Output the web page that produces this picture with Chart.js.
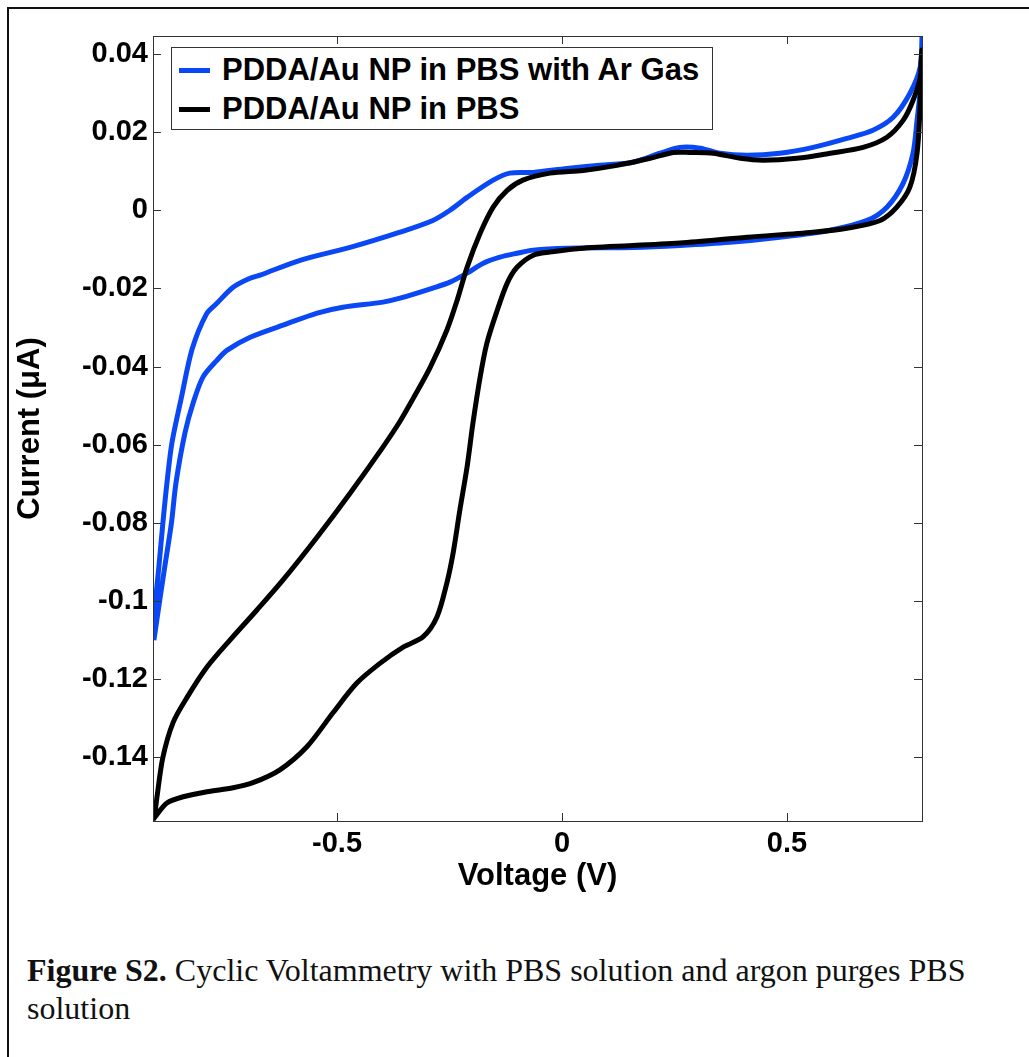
<!DOCTYPE html>
<html>
<head>
<meta charset="utf-8">
<script src="https://cdn.jsdelivr.net/npm/chart.js@4.4.1/dist/chart.umd.min.js"></script>
<style>
  html, body { margin: 0; padding: 0; background: #fff; overflow: hidden; }
  #wrap { position: relative; width: 1029px; height: 1057px; }
  #frame { position: absolute; left: 7px; top: 7px; width: 1040px; height: 1100px; border: 2px solid #111; box-sizing: border-box; }
  #cv { position: absolute; left: 0; top: 0; }
  #legend {
    position: absolute; left: 171px; top: 47px; width: 542px; height: 83px;
    border: 1px solid #333; background: #fff; box-sizing: border-box;
    font: bold 31px 'Liberation Sans', Arial, sans-serif; color: #000;
  }
  .leg-row { position: absolute; left: 0; height: 36px; line-height: 36px; white-space: nowrap; }
  .leg-line { position: absolute; left: 7px; top: 16px; width: 31px; height: 5px; }
  .leg-text { position: absolute; left: 50px; top: 0; }
  #caption {
    position: absolute; left: 27px; top: 951px; width: 985px;
    font: 32px 'Liberation Serif', 'DejaVu Serif', serif; line-height: 38px; color: #111;
  }
</style>
</head>
<body>
<div id="wrap">
  <div id="frame"></div>
  <canvas id="cv" width="1029" height="900"></canvas>
  <div id="legend"></div>
  <div id="caption"><b>Figure S2.</b> Cyclic Voltammetry with PBS solution and argon purges PBS<br>solution</div>
</div>
<script>
'use strict';

// ── Data (voltage V, current µA) ────────────────────────────────
const argonV = [
  -0.907, -0.903, -0.896, -0.887, -0.878, -0.867, -0.846, -0.822, -0.790, -0.767,
  -0.731, -0.693, -0.671, -0.582, -0.471, -0.360, -0.287, -0.249, -0.211, -0.153,
  -0.116, -0.064, 0.011, 0.084, 0.158, 0.218, 0.262, 0.307, 0.351, 0.411,
  0.484, 0.558, 0.633, 0.691, 0.736, 0.773, 0.796, 0.800,
  0.798, 0.789, 0.780, 0.758, 0.722, 0.678, 0.596, 0.484, 0.373, 0.262,
  0.158, 0.011, -0.064, -0.100, -0.138, -0.176, -0.211, -0.249, -0.287, -0.360,
  -0.398, -0.487, -0.544, -0.620, -0.693, -0.744, -0.767, -0.798, -0.820, -0.838,
  -0.858, -0.868, -0.883, -0.894, -0.907
];
const argonI = [
  -0.110, -0.0998, -0.0913, -0.0800, -0.0698, -0.0596, -0.0480, -0.0355, -0.0265, -0.0238,
  -0.0197, -0.0174, -0.0166, -0.0128, -0.0095, -0.0056, -0.0026, 0.0000, 0.0033, 0.0077,
  0.0095, 0.0097, 0.0107, 0.0115, 0.0123, 0.0146, 0.0161, 0.0159, 0.0146, 0.0141,
  0.0146, 0.0161, 0.0184, 0.0205, 0.0238, 0.0299, 0.0366, 0.0445,
  0.0332, 0.0230, 0.0146, 0.0069, 0.0008, -0.0026, -0.0051, -0.0069, -0.0082, -0.0090,
  -0.0095, -0.0097, -0.0102, -0.0110, -0.0120, -0.0136, -0.0161, -0.0184, -0.0199, -0.0225,
  -0.0235, -0.0248, -0.0263, -0.0294, -0.0325, -0.0358, -0.0384, -0.0427, -0.0494, -0.0570,
  -0.0698, -0.0800, -0.0913, -0.0998, -0.110
];

const pbsV = [
  -0.909, -0.904, -0.900, -0.887, -0.864, -0.833, -0.789, -0.738, -0.678, -0.620,
  -0.544, -0.471, -0.398, -0.360, -0.331, -0.293, -0.256, -0.233, -0.211, -0.182,
  -0.153, -0.122, -0.087, -0.027, 0.047, 0.122, 0.196, 0.247, 0.284, 0.336,
  0.396, 0.447, 0.522, 0.596, 0.669, 0.722, 0.758, 0.780, 0.796, 0.800,
  0.798, 0.796, 0.789, 0.773, 0.744, 0.707, 0.633, 0.558, 0.411, 0.262,
  0.047, -0.027, -0.064, -0.100, -0.122, -0.144, -0.167, -0.182, -0.198, -0.211,
  -0.227, -0.242, -0.256, -0.278, -0.309, -0.353, -0.404, -0.456, -0.509, -0.567,
  -0.627, -0.687, -0.731, -0.789, -0.842, -0.878, -0.904, -0.909
];
const pbsI = [
  -0.1560, -0.1535, -0.1500, -0.1400, -0.1310, -0.1246, -0.1169, -0.1100, -0.1023, -0.0946,
  -0.0836, -0.0724, -0.0606, -0.0540, -0.0482, -0.0402, -0.0307, -0.0230, -0.0146, -0.0059,
  0.0008, 0.0051, 0.0077, 0.0095, 0.0102, 0.0115, 0.0133, 0.0148, 0.0148, 0.0146,
  0.0133, 0.0128, 0.0133, 0.0146, 0.0161, 0.0187, 0.0230, 0.0281, 0.0340, 0.0410,
  0.0380, 0.0274, 0.0146, 0.0059, 0.0008, -0.0026, -0.0046, -0.0056, -0.0069, -0.0084,
  -0.0097, -0.0107, -0.0115, -0.0146, -0.0187, -0.0256, -0.0340, -0.0427, -0.0545, -0.0657,
  -0.0767, -0.0877, -0.0954, -0.1041, -0.1092, -0.1118, -0.1159, -0.1210, -0.1286, -0.1373,
  -0.1432, -0.1465, -0.1478, -0.1488, -0.1501, -0.1517, -0.1552, -0.1560
];

const seriesNames = ['PDDA/Au NP in PBS with Ar Gas', 'PDDA/Au NP in PBS'];
const seriesColors = ['#0a47f5', '#000000'];

const xTickValues = [-0.5, 0, 0.5];
const xTickLabels = ['-0.5', '0', '0.5'];
const yTickValues = [0.04, 0.02, 0, -0.02, -0.04, -0.06, -0.08, -0.1, -0.12, -0.14];
const yTickLabels = ['0.04', '0.02', '0', '-0.02', '-0.04', '-0.06', '-0.08', '-0.1', '-0.12', '-0.14'];

const xRange = [-0.909, 0.8];
const yRange = [-0.1563, 0.0446];

// ── Helpers ─────────────────────────────────────────────────────
function toPoints(xs, ys) {
  return xs.map((x, i) => ({ x: x, y: ys[i] }));
}

function labelFor(values, labels, v) {
  const i = values.findIndex(t => Math.abs(t - v) < 1e-9);
  return i >= 0 ? labels[i] : '';
}

const TICK_FONT = { family: "'Liberation Sans', Arial, sans-serif", size: 29, weight: 'bold' };
const AXIS_COLOR = '#333';

// Box around the plot with inward ticks on all four sides (MATLAB style)
const boxTicks = {
  id: 'boxTicks',
  afterDraw(chart) {
    const { ctx, chartArea: a, scales } = chart;
    const len = 8;
    ctx.save();
    ctx.strokeStyle = AXIS_COLOR;
    ctx.lineWidth = 1;
    ctx.strokeRect(a.left + 0.5, a.top + 0.5, a.right - a.left, a.bottom - a.top);
    ctx.beginPath();
    xTickValues.forEach(v => {
      const px = Math.round(scales.x.getPixelForValue(v)) + 0.5;
      ctx.moveTo(px, a.bottom); ctx.lineTo(px, a.bottom - len);
      ctx.moveTo(px, a.top); ctx.lineTo(px, a.top + len);
    });
    yTickValues.forEach(v => {
      const py = Math.round(scales.y.getPixelForValue(v)) + 0.5;
      ctx.moveTo(a.left, py); ctx.lineTo(a.left + len, py);
      ctx.moveTo(a.right, py); ctx.lineTo(a.right - len, py);
    });
    ctx.stroke();
    ctx.restore();
  }
};

// ── Chart ───────────────────────────────────────────────────────
const chart = new Chart(document.getElementById('cv').getContext('2d'), {
  type: 'line',
  data: {
    datasets: [
      {
        label: seriesNames[0],
        data: toPoints(argonV, argonI),
        borderColor: seriesColors[0],
        borderWidth: 5,
        pointRadius: 0,
        tension: 0.3,
        order: 1
      },
      {
        label: seriesNames[1],
        data: toPoints(pbsV, pbsI),
        borderColor: seriesColors[1],
        borderWidth: 5,
        pointRadius: 0,
        tension: 0.3,
        order: 0
      }
    ]
  },
  options: {
    responsive: false,
    animation: false,
    devicePixelRatio: 1,
    layout: { padding: { left: 0, top: 36, right: 107, bottom: 0 } },
    plugins: {
      legend: { display: false },
      tooltip: { enabled: false }
    },
    scales: {
      x: {
        type: 'linear',
        min: xRange[0],
        max: xRange[1],
        grid: { display: false, drawTicks: false },
        border: { display: false },
        afterBuildTicks: s => { s.ticks = xTickValues.map(v => ({ value: v })); },
        afterFit: s => { s.height = 79; },
        ticks: {
          color: '#000',
          font: TICK_FONT,
          padding: 6,
          maxRotation: 0,
          autoSkip: false,
          callback: v => labelFor(xTickValues, xTickLabels, v)
        },
        title: {
          display: true,
          text: 'Voltage (V)',
          color: '#000',
          font: { family: "'Liberation Sans', Arial, sans-serif", size: 31, weight: 'bold' },
          padding: { top: 0, bottom: 5 }
        }
      },
      y: {
        type: 'linear',
        min: yRange[0],
        max: yRange[1],
        grid: { display: false, drawTicks: false },
        border: { display: false },
        afterBuildTicks: s => { s.ticks = yTickValues.map(v => ({ value: v })); },
        afterFit: s => { s.width = 153; },
        ticks: {
          color: '#000',
          font: TICK_FONT,
          padding: 5,
          autoSkip: false,
          callback: v => labelFor(yTickValues, yTickLabels, v)
        },
        title: {
          display: true,
          text: 'Current (\u03BCA)',
          color: '#000',
          font: { family: "'Liberation Sans', Arial, sans-serif", size: 31, weight: 'bold' },
          padding: { top: 12, bottom: 0 }
        }
      }
    }
  },
  plugins: [boxTicks]
});

// ── Legend (boxed, top-left inside the axes) ────────────────────
const legendEl = document.getElementById('legend');
chart.data.datasets.forEach((ds, i) => {
  const row = document.createElement('div');
  row.className = 'leg-row';
  row.style.top = (4 + i * 39) + 'px';
  row.innerHTML = `<div class="leg-line" style="background:${ds.borderColor}"></div>` +
                  `<span class="leg-text">${ds.label}</span>`;
  legendEl.appendChild(row);
});
</script>
</body>
</html>
